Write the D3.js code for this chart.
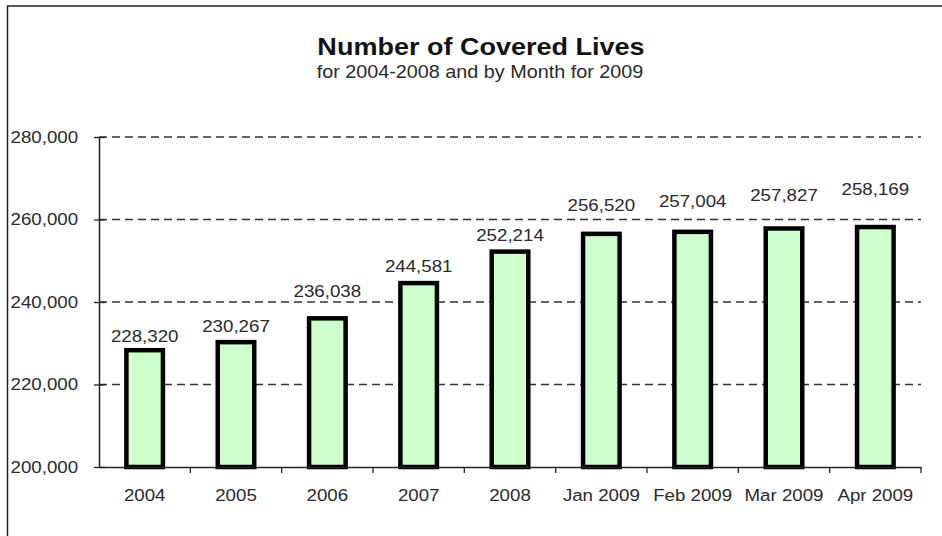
<!DOCTYPE html>
<html>
<head>
<meta charset="utf-8">
<script src="https://cdn.jsdelivr.net/npm/d3@7"></script>
<style>
body { margin: 0; background: #fff; }
text { font-family: "Liberation Sans", Arial, sans-serif; fill: #2a2a2a; }
</style>
</head>
<body>
<svg id="chart" width="942" height="536"></svg>
<script>
var categories = ["2004", "2005", "2006", "2007", "2008", "Jan 2009", "Feb 2009", "Mar 2009", "Apr 2009"];
var values = [228320, 230267, 236038, 244581, 252214, 256520, 257004, 257827, 258169];
var yTicks = [200000, 220000, 240000, 260000, 280000];

var svg = d3.select("#chart");
var plotLeft = 99, plotRight = 921, plotTop = 137, plotBottom = 467;
var stretch = 1.1; // text in the original is a bit wide

// outer frame
svg.append("rect").attr("x", 7.5).attr("y", 6).attr("width", 960).attr("height", 560)
	.attr("fill", "none").attr("stroke", "#222").attr("stroke-width", 1.5);

function label(g, x, y, str, size, weight, sx){
	return g.append("text")
		.attr("transform", "translate(" + x + "," + y + ") scale(" + sx + ",1)")
		.attr("text-anchor", "middle")
		.style("font-size", size + "px").style("font-weight", weight)
		.text(str);
}

label(svg, 481, 55, "Number of Covered Lives", 23.5, "bold", 1.15).style("fill", "#111");
label(svg, 480, 78, "for 2004-2008 and by Month for 2009", 18, "normal", 1.1);

var x = d3.scaleBand().domain(categories).range([plotLeft, plotRight]).paddingInner(0.6).paddingOuter(0.3);
var y = d3.scaleLinear().domain([200000, 280000]).range([plotBottom, plotTop]);

// gridlines
svg.append("g").selectAll("line").data(yTicks.slice(1)).enter().append("line")
	.attr("x1", plotLeft).attr("x2", plotRight)
	.attr("y1", function(d){ return y(d); }).attr("y2", function(d){ return y(d); })
	.attr("stroke", "#333").attr("stroke-width", 1.3).attr("stroke-dasharray", "8,5");

// bars
svg.append("g").selectAll("rect").data(values).enter().append("rect")
	.attr("x", function(d, i){ return x(categories[i]); })
	.attr("width", x.bandwidth())
	.attr("y", function(d){ return y(d); })
	.attr("height", function(d){ return plotBottom - y(d); })
	.attr("fill", "#ccffcc").attr("stroke", "#000").attr("stroke-width", 4.5);

// value labels, nudged like the original placement
var labelGap = [8, 10, 21, 11, 11, 23, 25, 27, 32];
var vals = svg.append("g");
values.forEach(function(d, i){
	label(vals, x(categories[i]) + x.bandwidth() / 2, y(d) - labelGap[i], d3.format(",")(d), 17, "normal", stretch);
});

// y axis
var yAxis = svg.append("g").attr("transform", "translate(" + plotLeft + ",0)")
	.call(d3.axisLeft(y).tickValues(yTicks).tickFormat(d3.format(",")).tickSizeInner(5).tickSizeOuter(0).tickPadding(14));
yAxis.selectAll(".tick line").attr("x1", 6).attr("x2", -5).attr("stroke", "#222").attr("stroke-width", 1.3);
yAxis.selectAll("text").style("font-size", "17px").style("font-family", "Liberation Sans, Arial, sans-serif")
	.attr("fill", "#2a2a2a").attr("transform", "scale(" + stretch + ",1)");
yAxis.select(".domain").attr("stroke", "#222").attr("stroke-width", 1.5);

// x axis
var xAxis = svg.append("g").attr("transform", "translate(0," + plotBottom + ")")
	.call(d3.axisBottom(x).tickSize(0).tickPadding(22));
xAxis.select(".domain").attr("stroke", "#222").attr("stroke-width", 1.5);
xAxis.selectAll("text").style("font-size", "17px").style("font-family", "Liberation Sans, Arial, sans-serif")
	.attr("fill", "#2a2a2a").attr("transform", "scale(" + stretch + ",1)");
// tick marks sit between the categories
svg.append("g").selectAll("line").data(d3.range(1, categories.length + 1)).enter().append("line")
	.attr("x1", function(i){ return plotLeft + i * x.step(); })
	.attr("x2", function(i){ return plotLeft + i * x.step(); })
	.attr("y1", plotBottom).attr("y2", plotBottom + 6)
	.attr("stroke", "#222").attr("stroke-width", 1.3);
</script>
</body>
</html>
